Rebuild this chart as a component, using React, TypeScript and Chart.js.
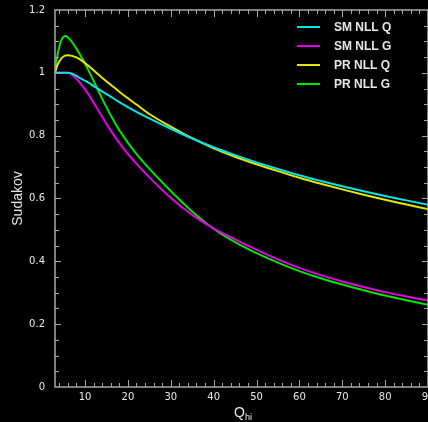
import React, { useEffect, useRef } from "react";
import { Chart, registerables } from "chart.js";

Chart.register(...registerables);

const qhi = [3, 3.5, 4, 4.5, 5, 5.5, 6, 7, 8, 9, 10, 11, 12, 13, 14, 16, 18, 20, 22, 25, 30, 35, 40, 45, 50, 55, 60, 65, 70, 75, 80, 85, 90];

const smNllQ = [1, 1, 1, 1, 1, 1, 1, 0.997, 0.99, 0.982, 0.975, 0.967, 0.958, 0.95, 0.941, 0.924, 0.907, 0.891, 0.876, 0.855, 0.822, 0.791, 0.763, 0.738, 0.715, 0.694, 0.674, 0.656, 0.639, 0.623, 0.608, 0.594, 0.58];
const smNllG = [1, 1, 1, 1, 1, 1, 1, 0.994, 0.981, 0.966, 0.948, 0.928, 0.906, 0.883, 0.86, 0.817, 0.777, 0.742, 0.711, 0.668, 0.602, 0.548, 0.505, 0.47, 0.437, 0.406, 0.379, 0.356, 0.336, 0.318, 0.302, 0.288, 0.275];
const prNllQ = [1, 1.022, 1.036, 1.046, 1.052, 1.055, 1.056, 1.054, 1.049, 1.041, 1.031, 1.02, 1.008, 0.996, 0.984, 0.962, 0.94, 0.919, 0.899, 0.869, 0.829, 0.792, 0.76, 0.733, 0.709, 0.687, 0.666, 0.647, 0.629, 0.612, 0.596, 0.581, 0.566];
const prNllG = [1, 1.05, 1.082, 1.104, 1.115, 1.117, 1.113, 1.098, 1.077, 1.054, 1.03, 1.003, 0.975, 0.946, 0.918, 0.865, 0.818, 0.778, 0.742, 0.695, 0.624, 0.559, 0.504, 0.461, 0.426, 0.396, 0.369, 0.346, 0.326, 0.308, 0.291, 0.276, 0.262];

const seriesNames = ["SM NLL Q", "SM NLL G", "PR NLL Q", "PR NLL G"];
const seriesColors = ["#00e6e6", "#e600e6", "#e6e600", "#00e600"];

const xTickLabels = [10, 20, 30, 40, 50, 60, 70, 80, 90];
const yTickLabels = [0, 0.2, 0.4, 0.6, 0.8, 1, 1.2];
const X_MIN = 3;
const X_MAX = 90;
const Y_MIN = 0;
const Y_MAX = 1.2;

const AXIS_COLOR = "#a8a8a8";
const TEXT_COLOR = "#e8e8e8";

const decorPlugin = {
  id: "decor",
  afterDraw(chart: any) {
    const { ctx, chartArea } = chart;
    const { left, right, top, bottom } = chartArea;
    const xs = chart.scales.x;
    const ys = chart.scales.y;
    ctx.save();
    ctx.strokeStyle = AXIS_COLOR;
    ctx.lineWidth = 1.5;
    ctx.strokeRect(left, top, right - left, bottom - top);

    ctx.lineWidth = 1;
    ctx.beginPath();
    for (let v = 4; v <= X_MAX; v += 2) {
      const px = Math.round(xs.getPixelForValue(v)) + 0.5;
      const len = v % 10 === 0 ? 7 : 4;
      ctx.moveTo(px, bottom);
      ctx.lineTo(px, bottom - len);
      ctx.moveTo(px, top);
      ctx.lineTo(px, top + len);
    }
    for (let i = 1; i < 24; i++) {
      const v = i * 0.05;
      const py = Math.round(ys.getPixelForValue(v)) + 0.5;
      const len = i % 4 === 0 ? 6 : 4;
      ctx.moveTo(left, py);
      ctx.lineTo(left + len, py);
      ctx.moveTo(right, py);
      ctx.lineTo(right - len, py);
    }
    ctx.stroke();

    ctx.fillStyle = TEXT_COLOR;
    ctx.font = "10px 'DejaVu Sans'";
    ctx.textAlign = "center";
    ctx.textBaseline = "middle";
    for (const v of xTickLabels) {
      ctx.fillText(String(v), xs.getPixelForValue(v), bottom + 10);
    }
    ctx.textAlign = "right";
    for (const v of yTickLabels) {
      ctx.fillText(String(v), left - 10, ys.getPixelForValue(v));
    }

    ctx.font = "14px 'Liberation Sans'";
    ctx.textAlign = "center";
    ctx.save();
    ctx.translate(18, (top + bottom) / 2);
    ctx.rotate(-Math.PI / 2);
    ctx.fillText("Sudakov", 0, 0);
    ctx.restore();

    const cx = (left + right) / 2 + 2;
    ctx.textAlign = "left";
    ctx.textBaseline = "alphabetic";
    ctx.font = "14px 'Liberation Sans'";
    const qw = ctx.measureText("Q").width;
    const tx = cx - (qw + 8) / 2;
    ctx.fillText("Q", tx, 417);
    ctx.font = "9px 'Liberation Sans'";
    ctx.fillText("hi", tx + qw, 420);

    ctx.font = "bold 12px 'Liberation Sans'";
    ctx.textBaseline = "middle";
    chart.data.datasets.forEach((ds: any, i: number) => {
      const y = 27 + i * 19;
      ctx.strokeStyle = ds.borderColor;
      ctx.lineWidth = 2;
      ctx.beginPath();
      ctx.moveTo(297, y);
      ctx.lineTo(320, y);
      ctx.stroke();
      ctx.fillStyle = TEXT_COLOR;
      ctx.fillText(ds.label, 334, y + 1);
    });
    ctx.restore();
  },
};

export default function App() {
  const canvasRef = useRef<HTMLCanvasElement | null>(null);

  useEffect(() => {
    document.body.style.margin = "0";
    document.body.style.background = "#000";
    const canvas = canvasRef.current;
    if (!canvas) return;
    const allSeries = [smNllQ, smNllG, prNllQ, prNllG];
    const chart = new Chart(canvas, {
      type: "line",
      data: {
        datasets: allSeries.map((vals, i) => ({
          label: seriesNames[i],
          data: qhi.map((q, j) => ({ x: q, y: vals[j] })),
          borderColor: seriesColors[i],
          backgroundColor: seriesColors[i],
          borderWidth: 2,
          pointRadius: 0,
          fill: false,
          cubicInterpolationMode: "monotone" as const,
        })),
      },
      options: {
        animation: false,
        responsive: false,
        devicePixelRatio: 1,
        layout: { padding: { left: 55, top: 10, right: 0, bottom: 35 } },
        scales: {
          x: { type: "linear", min: X_MIN, max: X_MAX, display: false },
          y: { type: "linear", min: Y_MIN, max: Y_MAX, display: false },
        },
        plugins: {
          legend: { display: false },
          tooltip: { enabled: false },
        },
      },
      plugins: [decorPlugin],
    });
    return () => chart.destroy();
  }, []);

  return (
    <div style={{ width: 428, height: 422, background: "#000" }}>
      <canvas ref={canvasRef} width={428} height={422} style={{ display: "block" }} />
    </div>
  );
}
